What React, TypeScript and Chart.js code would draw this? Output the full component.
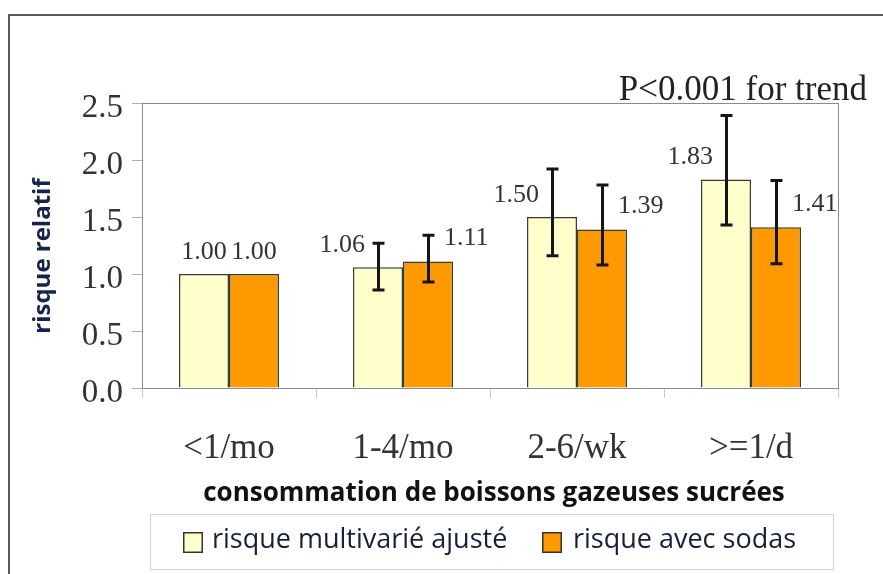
import React, { useEffect, useRef } from 'react';
import { Chart, registerables } from 'chart.js';

Chart.register(...registerables);

const categories = ['<1/mo', '1-4/mo', '2-6/wk', '>=1/d'];
const seriesNames = ['risque multivarié ajusté', 'risque avec sodas'];
const adjusted = [1.0, 1.06, 1.5, 1.83];
const sodas = [1.0, 1.11, 1.39, 1.41];
const adjustedLow: (number | null)[] = [null, 0.86, 1.16, 1.43];
const adjustedHigh: (number | null)[] = [null, 1.27, 1.92, 2.39];
const sodasLow: (number | null)[] = [null, 0.93, 1.08, 1.09];
const sodasHigh: (number | null)[] = [null, 1.34, 1.78, 1.82];
const yMin = 0;
const yMax = 2.5;
const yStep = 0.5;
const trendNote = 'P<0.001 for trend';
const xTitle = 'consommation de boissons gazeuses sucrées';
const yTitle = 'risque relatif';

const COLORS = ['#FFFFCC', '#FF9900'];
const SERIF = '"Liberation Serif", "DejaVu Serif", serif';
const SANS = '"Open Sans", "Noto Sans", sans-serif';

const lows = [adjustedLow, sodasLow];
const highs = [adjustedHigh, sodasHigh];
const values = [adjusted, sodas];

const decorPlugin = {
  id: 'decor',
  afterDatasetsDraw(chart: any) {
    const ctx = chart.ctx;
    const y = chart.scales.y;
    ctx.save();
    // error bars
    for (let d = 0; d < 2; d++) {
      const meta = chart.getDatasetMeta(d);
      meta.data.forEach((bar: any, j: number) => {
        const lo = lows[d][j];
        const hi = highs[d][j];
        if (lo == null || hi == null) return;
        const x = Math.round(bar.x) + 0.5;
        const yl = y.getPixelForValue(lo);
        const yh = y.getPixelForValue(hi);
        ctx.strokeStyle = '#151515';
        ctx.lineWidth = 3;
        ctx.beginPath();
        ctx.moveTo(x, yl);
        ctx.lineTo(x, yh);
        ctx.moveTo(x - 6, yl);
        ctx.lineTo(x + 6, yl);
        ctx.moveTo(x - 6, yh);
        ctx.lineTo(x + 6, yh);
        ctx.stroke();
      });
    }
    // data labels
    ctx.font = '26px ' + SERIF;
    ctx.fillStyle = '#333';
    ctx.textBaseline = 'middle';
    for (let d = 0; d < 2; d++) {
      const meta = chart.getDatasetMeta(d);
      meta.data.forEach((bar: any, j: number) => {
        const txt = values[d][j].toFixed(2);
        const hasErr = lows[d][j] != null;
        if (!hasErr) {
          ctx.textAlign = 'center';
          ctx.fillText(txt, bar.x, bar.y - 22);
        } else if (d === 0) {
          ctx.textAlign = 'right';
          ctx.fillText(txt, bar.x - 13, bar.y - 22);
        } else {
          ctx.textAlign = 'left';
          ctx.fillText(txt, bar.x + 16, bar.y - 23);
        }
      });
    }
    ctx.restore();
  },
  afterDraw(chart: any) {
    const ctx = chart.ctx;
    const a = chart.chartArea;
    ctx.save();
    // plot box
    ctx.strokeStyle = '#8a8a8a';
    ctx.lineWidth = 1;
    ctx.strokeRect(Math.round(a.left) + 0.5, Math.round(a.top) + 0.5, Math.round(a.right - a.left), Math.round(a.bottom - a.top));
    // outer frame
    ctx.strokeStyle = '#5a5a5a';
    ctx.lineWidth = 2;
    ctx.beginPath();
    ctx.moveTo(9, chart.height);
    ctx.lineTo(9, 15);
    ctx.lineTo(chart.width, 15);
    ctx.stroke();
    // trend note
    ctx.font = '35px ' + SERIF;
    ctx.fillStyle = '#222';
    ctx.textAlign = 'right';
    ctx.textBaseline = 'alphabetic';
    ctx.fillText(trendNote, 867, 100);
    // x title
    ctx.font = 'bold 26px ' + SANS;
    ctx.fillStyle = '#111';
    ctx.textAlign = 'center';
    ctx.textBaseline = 'middle';
    ctx.fillText(xTitle, 494, 494);
    // y title
    ctx.save();
    ctx.translate(43, 256);
    ctx.rotate(-Math.PI / 2);
    ctx.font = 'bold 24px ' + SANS;
    ctx.fillStyle = '#14244a';
    ctx.fillText(yTitle, 0, 0);
    ctx.restore();
    // legend
    ctx.strokeStyle = '#d6d6d6';
    ctx.lineWidth = 1;
    ctx.strokeRect(150.5, 514.5, 683, 55);
    const entries = [
      { mx: 183, tx: 212 },
      { mx: 542, tx: 573 },
    ];
    chart.data.datasets.forEach((ds: any, i: number) => {
      const e = entries[i];
      ctx.fillStyle = ds.backgroundColor;
      ctx.fillRect(e.mx, 532, 20, 21);
      ctx.strokeStyle = '#333';
      ctx.lineWidth = 1.5;
      ctx.strokeRect(e.mx + 0.75, 532.75, 18.5, 19.5);
      ctx.font = '27px ' + SANS;
      ctx.fillStyle = '#16203a';
      ctx.textAlign = 'left';
      ctx.textBaseline = 'middle';
      ctx.fillText(ds.label, e.tx, 540);
    });
    ctx.restore();
  },
};

export default function App() {
  const ref = useRef<HTMLCanvasElement | null>(null);
  useEffect(() => {
    document.body.style.margin = '0';
    const canvas = ref.current;
    if (!canvas) return;
    const chart = new Chart(canvas, {
      type: 'bar',
      data: {
        labels: categories,
        datasets: [
          {
            label: seriesNames[0],
            data: adjusted,
            backgroundColor: COLORS[0],
            borderColor: '#3b3b2e',
            borderWidth: 1.5,
            categoryPercentage: 0.575,
            barPercentage: 1,
          },
          {
            label: seriesNames[1],
            data: sodas,
            backgroundColor: COLORS[1],
            borderColor: '#3b3b2e',
            borderWidth: 1.5,
            categoryPercentage: 0.575,
            barPercentage: 1,
          },
        ],
      },
      options: {
        animation: false,
        responsive: false,
        devicePixelRatio: 1,
        layout: { padding: { top: 103, right: 45, left: 0, bottom: 0 } },
        plugins: {
          legend: { display: false },
          tooltip: { enabled: false },
        },
        scales: {
          x: {
            afterFit: (s: any) => {
              s.height = 186;
            },
            grid: {
              display: true,
              drawOnChartArea: false,
              drawTicks: true,
              tickLength: 10,
              color: '#c8c8c8',
              offset: true,
            },
            border: { display: true, color: '#8a8a8a', width: 1 },
            ticks: {
              font: { family: SERIF, size: 35 },
              color: '#333',
              padding: 30,
              maxRotation: 0,
            },
          },
          y: {
            min: yMin,
            max: yMax,
            afterFit: (s: any) => {
              s.width = 142;
            },
            grid: {
              display: true,
              drawOnChartArea: false,
              drawTicks: true,
              tickLength: 10,
              color: '#b0b0b0',
            },
            border: { display: true, color: '#8a8a8a', width: 1 },
            ticks: {
              stepSize: yStep,
              font: { family: SERIF, size: 33 },
              color: '#333',
              padding: 9,
              labelOffset: 5,
              callback: (v: any) => Number(v).toFixed(1),
            },
          },
        },
      },
      plugins: [decorPlugin],
    });
    return () => chart.destroy();
  }, []);
  return (
    <div style={{ width: 883, height: 574, background: '#fff' }}>
      <canvas ref={ref} width={883} height={574} style={{ display: 'block' }} />
    </div>
  );
}
